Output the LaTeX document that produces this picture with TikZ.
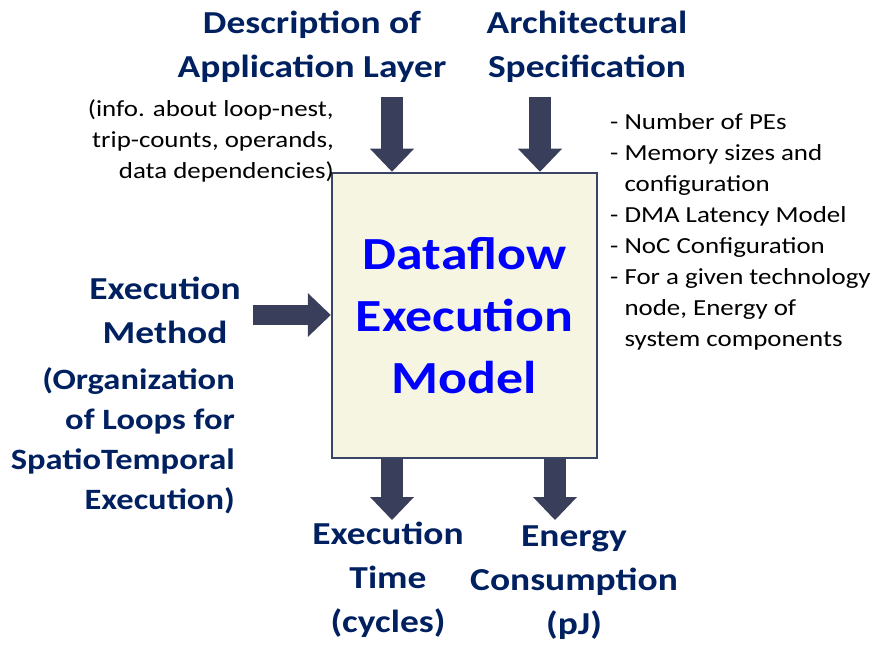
\documentclass[tikz,border=0pt]{standalone}
\usepackage{fontspec}
\setmainfont[FakeStretch=1.17]{Carlito}
\usetikzlibrary{arrows.meta,positioning}
\definecolor{titleblue}{HTML}{002060}
\definecolor{modelblue}{HTML}{0000FF}
\definecolor{boxfill}{HTML}{F5F5E1}
\definecolor{boxedge}{HTML}{3C4466}
\definecolor{arrowfill}{HTML}{393E5B}

\begin{document}
\begin{tikzpicture}[x=1pt, y=-1pt,
  title/.style = {text=titleblue, font=\fontsize{32}{44}\selectfont\bfseries,
    align=center, inner sep=0pt},
  note/.style = {font=\fontsize{23}{31}\selectfont, inner sep=0pt},
  bigarrow/.style = {arrowfill, line width=22pt,
    -{Triangle[width=44pt 0 0, length=23pt 0 0, line width=0pt]}}]
  \useasboundingbox (0,0) rectangle (879,647);

  \node[draw=boxedge, line width=2.5pt, fill=boxfill, minimum width=265pt,
    minimum height=285pt, inner sep=0pt, align=center, text=modelblue,
    font=\fontsize{46}{62}\selectfont\bfseries] (model) at (464.5,315.5)
    {Dataflow\\Execution\\Model};

  \node[title] (appdesc) at (312,47) {Description of\\Application Layer};
  \node[title] (archspec) at (587,47) {Architectural\\Specification};
  \node[note, anchor=east, align=right] (appnote) at (334,141)
    {(info. about loop-nest,\\trip-counts, operands,\\data dependencies)};
  \node[note, anchor=west, align=left] (archnote) at (610,232)
    {- Number of PEs\\- Memory sizes and\\\phantom{-} configuration\\- DMA Latency Model\\
     - NoC Configuration\\- For a given technology\\\phantom{-} node, Energy of\\
     \phantom{-} system components};
  \node[title] (method) at (165,310) {Execution\\Method};
  \node[title, font=\fontsize{29.5}{40}\selectfont\bfseries, anchor=east, align=right]
    (methodnote) at (235,441) {(Organization\\of Loops for\\SpatioTemporal\\Execution)};
  \node[title] (time) at (388,580) {Execution\\Time\\(cycles)};
  \node[title] (energy) at (574,583) {Energy\\Consumption\\(pJ)};

  \coordinate (appin) at (392,97);
  \coordinate (archin) at (540,97);
  \coordinate (methodin) at (253,315);
  \coordinate (timeout) at (392,520);
  \coordinate (energyout) at (555,520);

  \draw[bigarrow] (appin) -- (appin |- model.north);
  \draw[bigarrow] (archin) -- (archin |- model.north);
  \draw[bigarrow, line width=20pt] (methodin) -- (methodin -| model.west);
  \draw[bigarrow] (model.south -| timeout) -- (timeout);
  \draw[bigarrow] (model.south -| energyout) -- (energyout);
\end{tikzpicture}
\end{document}
